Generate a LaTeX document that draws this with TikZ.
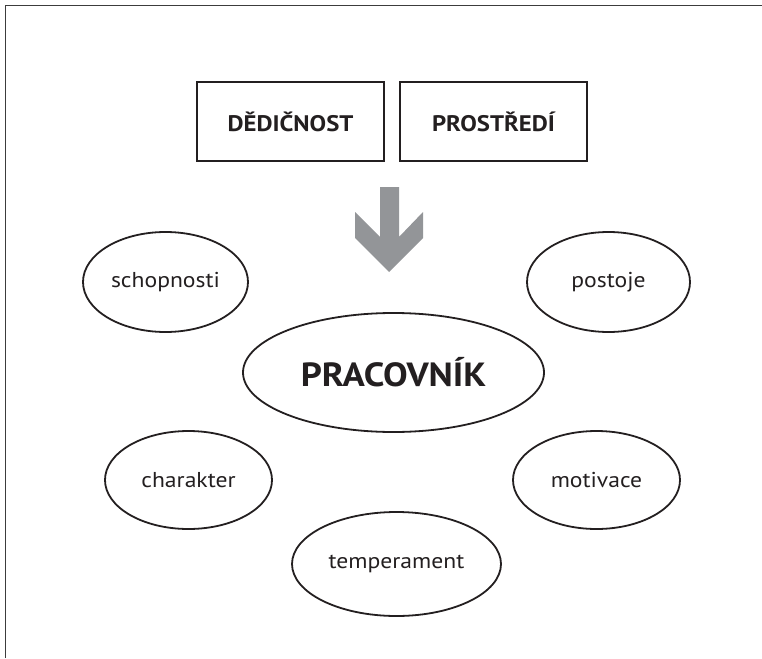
\documentclass[tikz,border=0pt]{standalone}
\usepackage{fontspec}
\setmainfont{PT Sans}[FakeStretch=1.1]
\usetikzlibrary{shapes.geometric}
\definecolor{ink}{RGB}{35,31,32}
\definecolor{framegray}{RGB}{60,60,60}
\definecolor{arrowgray}{RGB}{147,149,152}
\begin{document}
\begin{tikzpicture}[x=1pt,y=-1pt,
  oval/.style={draw=ink, line width=1.8pt, ellipse, inner sep=0pt, text=ink,
    font=\fontsize{21.5}{26}\selectfont},
  bigoval/.style={oval, font=\fontsize{33.5}{40}\selectfont\bfseries},
  factor/.style={draw=ink, line width=2pt, rectangle, inner sep=0pt, text=ink,
    minimum width=187pt, minimum height=79pt, font=\fontsize{22.5}{27}\selectfont\bfseries}]
\useasboundingbox (0,0) rectangle (762,658);
% frame (top and left edges)
\coordinate (fbl) at (5.5,658);
\coordinate (ftl) at (5.5,5.5);
\coordinate (ftr) at (762,5.5);
\draw[framegray, line width=1.5pt] (fbl) -- (ftl) -- (ftr);
% boxes
\node[factor] (dedi) at (290.5,121.5) {DĚDIČNOST};
\node[factor] (pros) at (493.5,121.5) {PROSTŘEDÍ};
% big gray arrow
\fill[arrowgray] (380,187) -- (399,187) -- (399,237) -- (423,212) -- (423,238)
  -- (389,272) -- (355,238) -- (355,212) -- (380,237) -- cycle;
% ellipses
\node[oval, minimum width=165pt, minimum height=100pt] (sch) at (165.5,282) {schopnosti};
\node[oval, minimum width=163pt, minimum height=100pt] (pos) at (608.5,282) {postoje};
\node[bigoval, minimum width=301pt, minimum height=119pt] (prac) at (393.5,372.5) {PRACOVNÍK};
\node[oval, minimum width=167pt, minimum height=98pt] (char) at (188.5,480) {charakter};
\node[oval, minimum width=167pt, minimum height=98pt] (mot) at (596.5,480) {motivace};
\node[oval, minimum width=209pt, minimum height=104pt] (temp) at (396.5,564) {temperament};
\end{tikzpicture}
\end{document}
